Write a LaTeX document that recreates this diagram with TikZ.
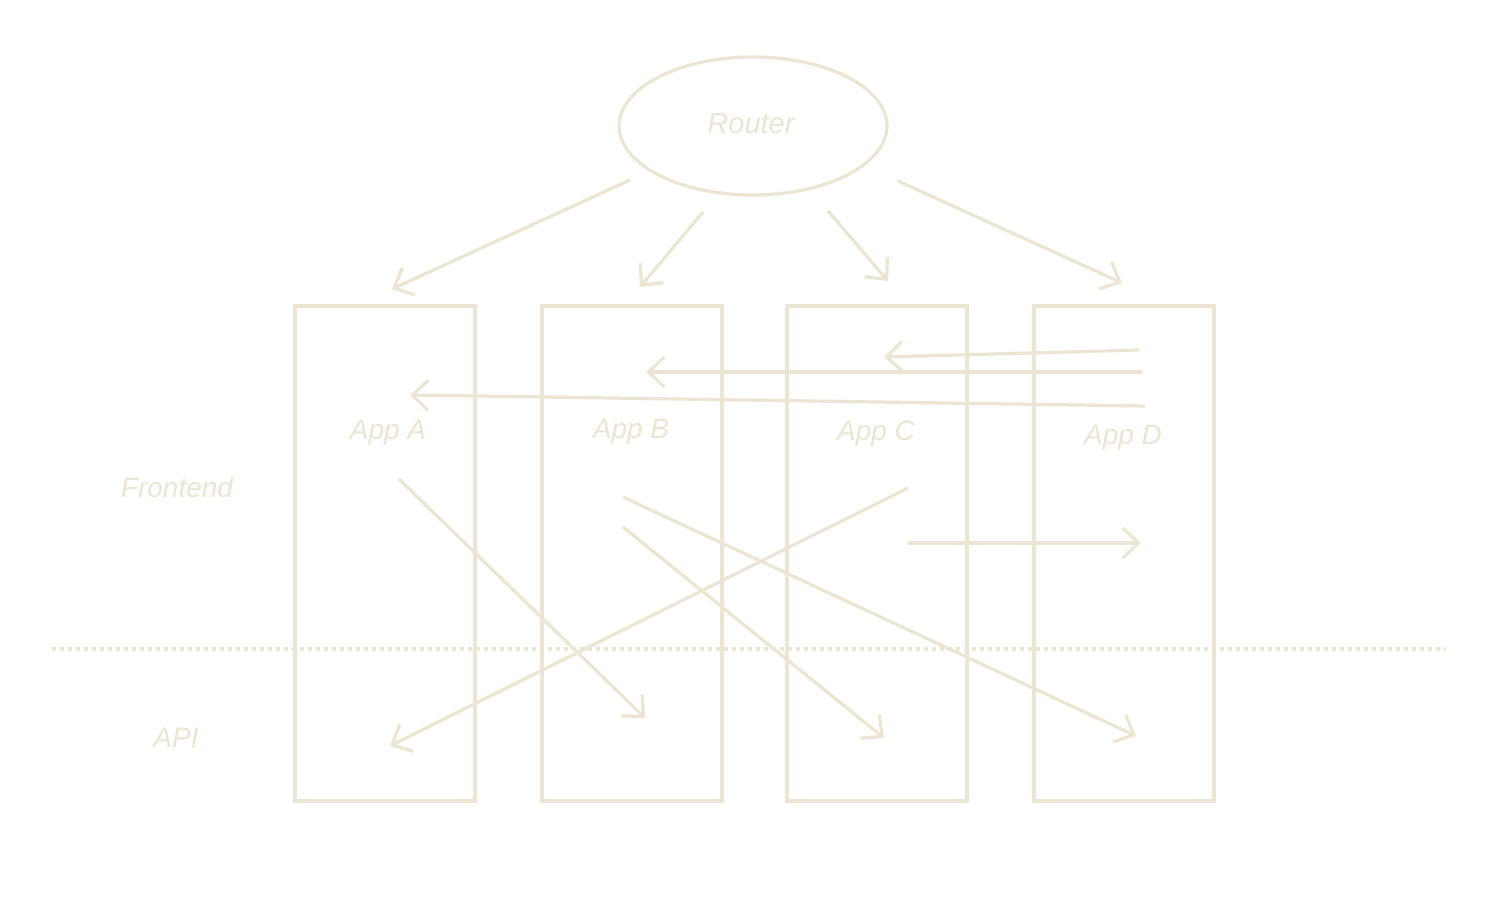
\documentclass[tikz,border=0pt]{standalone}
\usepackage{fontspec}
\setmainfont{Liberation Sans}
\usetikzlibrary{arrows.meta,shapes.geometric}
\definecolor{sand}{HTML}{EDE5D3}
\begin{document}
\begin{tikzpicture}[x=1pt,y=-1pt,
  app/.style={draw=sand, line width=3.2pt, minimum width=180pt, minimum height=495pt, inner sep=0pt},
  lbl/.style={text=sand, font=\fontsize{28}{32}\selectfont\itshape},
  flow/.style={draw=sand, line width=3.2pt, -{Straight Barb[length=16pt,width=30pt]}}]
\useasboundingbox (0,0) rectangle (1500,900);
\fill[white] (0,0) rectangle (1500,900);

% router and application columns
\node[ellipse, draw=sand, line width=3.2pt, minimum width=268pt, minimum height=138pt, inner sep=0pt] (router) at (753,126) {};
\node[lbl, font=\fontsize{29}{32}\selectfont\itshape] (routerlbl) at (751,124) {Router};
\node[app] (A) at (385,553.5) {};
\node[app] (B) at (632,553.5) {};
\node[app] (C) at (877,553.5) {};
\node[app] (D) at (1124,553.5) {};
\node[lbl] (Alab) at (388,433) {App A};
\node[lbl] (Blab) at (631,432) {App B};
\node[lbl] (Clab) at (876,434) {App C};
\node[lbl] (Dlab) at (1123,438) {App D};

% layer labels and separator
\node[lbl] (front) at (177,487) {Frontend};
\node[lbl] (api) at (176,738) {API};
\coordinate (sepL) at (52,649);
\coordinate (sepR) at (1446,649);
\draw[draw=sand, line width=3.5pt, dash pattern=on 4pt off 4pt] (sepL) -- (sepR);

% connector ends
\coordinate (r1) at (630,180);  \coordinate (a1) at (392,289);
\coordinate (r2) at (703,212);  \coordinate (b1) at (640,287);
\coordinate (r3) at (828,211);  \coordinate (c1) at (888,281);
\coordinate (r4) at (898,181);  \coordinate (d1) at (1122,283);
\coordinate (d2) at (1139,350); \coordinate (c2) at (884,357);
\coordinate (d3) at (1142,372); \coordinate (b2) at (646,372);
\coordinate (d4) at (1145,406); \coordinate (a2) at (410,395);
\coordinate (a3) at (399,479);  \coordinate (b3) at (645,718);
\coordinate (c3) at (908,488);  \coordinate (a4) at (390,746);
\coordinate (b4) at (623,497);  \coordinate (d5) at (1136,736);
\coordinate (b5) at (623,527);  \coordinate (c4) at (884,738);
\coordinate (c5) at (908,543);  \coordinate (d6) at (1141,543);

\draw[flow] (r1) -- (a1);
\draw[flow] (r2) -- (b1);
\draw[flow] (r3) -- (c1);
\draw[flow] (r4) -- (d1);
\draw[flow] (d2) -- (c2);
\draw[flow] (d3) -- (b2);
\draw[flow] (d4) -- (a2);
\draw[flow] (a3) -- (b3);
\draw[flow] (c3) -- (a4);
\draw[flow] (b4) -- (d5);
\draw[flow] (b5) -- (c4);
\draw[flow] (c5) -- (d6);
\end{tikzpicture}
\end{document}
